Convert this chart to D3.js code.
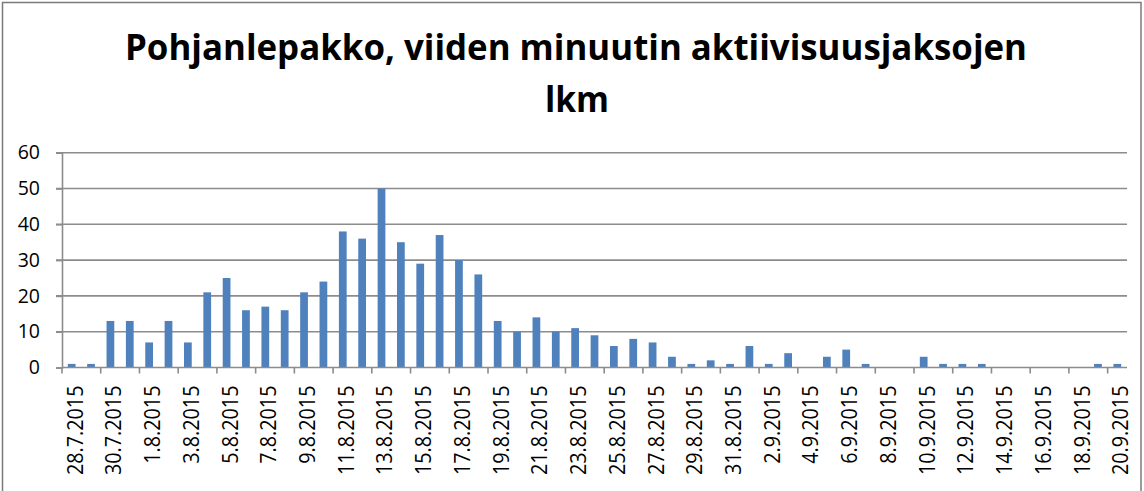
<!DOCTYPE html>
<html>
<head>
<meta charset="utf-8">
<script src="https://cdn.jsdelivr.net/npm/d3@7/dist/d3.min.js"></script>
<style>
  html, body { margin: 0; padding: 0; background: #fff; }
  svg { display: block; }
</style>
</head>
<body>
<svg id="chart" width="1144" height="491"></svg>
<script>
// Daily counts of five-minute activity periods (northern bat), 28.7.–20.9.2015
const days = [
  "28.7.2015","29.7.2015","30.7.2015","31.7.2015",
  "1.8.2015","2.8.2015","3.8.2015","4.8.2015","5.8.2015","6.8.2015","7.8.2015","8.8.2015",
  "9.8.2015","10.8.2015","11.8.2015","12.8.2015","13.8.2015","14.8.2015","15.8.2015","16.8.2015",
  "17.8.2015","18.8.2015","19.8.2015","20.8.2015","21.8.2015","22.8.2015","23.8.2015","24.8.2015",
  "25.8.2015","26.8.2015","27.8.2015","28.8.2015","29.8.2015","30.8.2015","31.8.2015",
  "1.9.2015","2.9.2015","3.9.2015","4.9.2015","5.9.2015","6.9.2015","7.9.2015","8.9.2015",
  "9.9.2015","10.9.2015","11.9.2015","12.9.2015","13.9.2015","14.9.2015","15.9.2015","16.9.2015",
  "17.9.2015","18.9.2015","19.9.2015","20.9.2015"
];
const counts = [
  1, 1, 13, 13,
  7, 13, 7, 21, 25, 16, 17, 16,
  21, 24, 38, 36, 50, 35, 29, 37,
  30, 26, 13, 10, 14, 10, 11, 9,
  6, 8, 7, 3, 1, 2, 1,
  6, 1, 4, 0, 3, 5, 1, 0,
  0, 3, 1, 1, 1, 0, 0, 0,
  0, 0, 1, 1
];
const yTicks = [0, 10, 20, 30, 40, 50, 60];
const titleLines = ["Pohjanlepakko, viiden minuutin aktiivisuusjaksojen", "lkm"];

const svg = d3.select("#chart");
const plotLeft = 62, plotRight = 1127, plotTop = 152.7, plotBottom = 367.5;
const font = "'Open Sans', sans-serif";

// outer frame
svg.append("rect")
  .attr("x", 2.5).attr("y", 2.5)
  .attr("width", 1138.5).attr("height", 520)
  .attr("fill", "none").attr("stroke", "#7a7a7a").attr("stroke-width", 1.5);

// title, two centred lines in a condensed bold face
svg.append("text")
  .attr("x", 576).attr("y", 60)
  .attr("text-anchor", "middle")
  .attr("font-family", font)
  .attr("font-weight", "bold")
  .attr("font-size", 35)
  .attr("textLength", 902)
  .attr("lengthAdjust", "spacingAndGlyphs")
  .text(titleLines[0]);
svg.append("text")
  .attr("x", 577).attr("y", 112)
  .attr("text-anchor", "middle")
  .attr("font-family", font)
  .attr("font-weight", "bold")
  .attr("font-size", 35)
  .attr("textLength", 64)
  .attr("lengthAdjust", "spacingAndGlyphs")
  .text(titleLines[1]);

const x = d3.scaleBand().domain(days).range([plotLeft, plotRight]).paddingInner(0.6).paddingOuter(0.3);
const y = d3.scaleLinear().domain([0, 60]).range([plotBottom, plotTop]);

// horizontal gridlines with their left tick extension
svg.append("g").selectAll("line")
  .data(yTicks.filter(d => d > 0))
  .join("line")
  .attr("x1", plotLeft - 6).attr("x2", plotRight)
  .attr("y1", d => y(d)).attr("y2", d => y(d))
  .attr("stroke", "#8c8c8c").attr("stroke-width", 1.6);

// y axis
const yAxis = svg.append("g")
  .attr("transform", `translate(${plotLeft},0)`)
  .call(d3.axisLeft(y).tickValues(yTicks).tickSize(6).tickPadding(16));
yAxis.select(".domain").attr("stroke", "#8c8c8c").attr("stroke-width", 1.6);
yAxis.selectAll(".tick line").attr("stroke", "#8c8c8c").attr("stroke-width", 1.6);
yAxis.selectAll(".tick text")
  .attr("font-family", font)
  .attr("font-size", 19.5)
  .attr("fill", "#000");

// bars
svg.append("g").selectAll("rect")
  .data(days.map((d, i) => ({ day: d, value: counts[i] })))
  .join("rect")
  .attr("x", d => x(d.day))
  .attr("width", x.bandwidth())
  .attr("y", d => y(d.value))
  .attr("height", d => y(0) - y(d.value))
  .attr("fill", "#4f81bd");

// x axis: baseline, tick marks on every second category boundary, rotated labels
const step = x.step();
const edge = i => x(days[i]) - x.paddingOuter() * step;
svg.append("line")
  .attr("x1", plotLeft).attr("x2", plotRight)
  .attr("y1", y(0)).attr("y2", y(0))
  .attr("stroke", "#8c8c8c").attr("stroke-width", 1.6);

const labelIdx = d3.range(0, days.length, 2);
svg.append("g").selectAll("line")
  .data(labelIdx)
  .join("line")
  .attr("x1", i => edge(i)).attr("x2", i => edge(i))
  .attr("y1", y(0)).attr("y2", y(0) + 6)
  .attr("stroke", "#8c8c8c").attr("stroke-width", 1.6);

svg.append("g").selectAll("text")
  .data(labelIdx)
  .join("text")
  .attr("transform", i => `translate(${x(days[i]) + x.bandwidth() / 2 + 3},${y(0) + 18}) rotate(-90) scale(0.9,1)`)
  .attr("text-anchor", "end")
  .attr("dy", "0.36em")
  .attr("font-family", font)
  .attr("font-size", 22)
  .attr("fill", "#000")
  .text(i => days[i]);
</script>
</body>
</html>
